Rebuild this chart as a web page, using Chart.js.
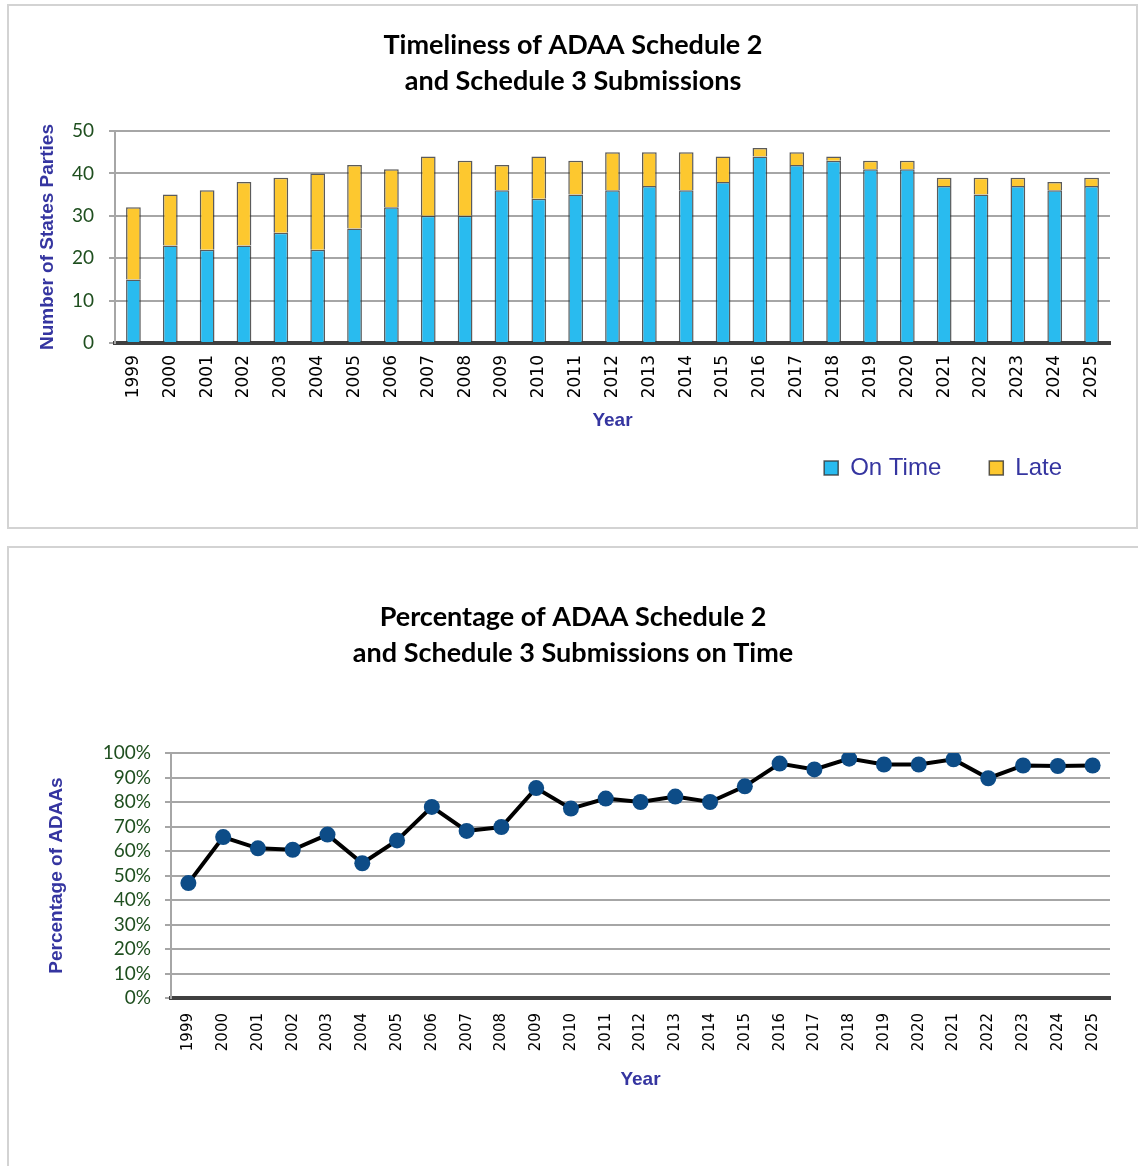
<!DOCTYPE html>
<html>
<head>
<meta charset="utf-8">
<title>ADAA Schedule 2 and 3 Submissions</title>
<script src="https://cdn.jsdelivr.net/npm/chart.js@4.4.1/dist/chart.umd.min.js"></script>
<style>
  html, body { margin: 0; padding: 0; background: #fff; }
  body { width: 1138px; height: 1166px; position: relative; overflow: hidden; }
  .panel { position: absolute; border: 2px solid #d3d3d3; box-sizing: border-box; }
  #panel1 { left: 7px; top: 4px; width: 1131px; height: 525px; }
  #panel2 { left: 7px; top: 546px; width: 1140px; height: 640px; }
  .wrap { position: absolute; left: 0; width: 1138px; }
  #wrap1 { top: 0; height: 535px; }
  #wrap2 { top: 535px; height: 631px; }
</style>
</head>
<body>
<div class="panel" id="panel1"></div>
<div class="panel" id="panel2"></div>
<div class="wrap" id="wrap1"><canvas id="barChart"></canvas></div>
<div class="wrap" id="wrap2"><canvas id="lineChart"></canvas></div>

<script>
// Data
const years = ['1999', '2000', '2001', '2002', '2003', '2004', '2005', '2006', '2007',
  '2008', '2009', '2010', '2011', '2012', '2013', '2014', '2015', '2016', '2017',
  '2018', '2019', '2020', '2021', '2022', '2023', '2024', '2025'];
const onTime = [15, 23, 22, 23, 26, 22, 27, 32, 30, 30, 36, 34, 35, 36, 37, 36, 38, 44, 42, 43, 41, 41, 37, 35, 37, 36, 37];
const late = [17, 12, 14, 15, 13, 18, 15, 9, 14, 13, 6, 10, 8, 9, 8, 9, 6, 2, 3, 1, 2, 2, 2, 4, 2, 2, 2];
const pctOnTime = [46.9, 65.7, 61.1, 60.5, 66.7, 55.0, 64.3, 78.0, 68.2, 69.8, 85.7, 77.3, 81.4, 80.0,
  82.2, 80.0, 86.4, 95.7, 93.3, 97.7, 95.3, 95.3, 97.4, 89.7, 94.9, 94.7, 94.9];
const countTicks = [0, 10, 20, 30, 40, 50];

// Shared styles
const titleFont = { family: 'Lato, "Open Sans", sans-serif', size: 27, weight: 'bold', lineHeight: 36 / 27 };
const axisTitleFont = { family: '"Liberation Sans", Arial, sans-serif', size: 19, weight: 'bold' };
const axisTitleColor = '#3535a0';
const yTickFont = { family: 'Lato, sans-serif', size: 19 };
const yTickColor = '#1f4f1f';
const gridColor = '#a6a6a6';

Chart.defaults.animation = false;
Chart.defaults.responsive = true;
Chart.defaults.maintainAspectRatio = false;

// Chart 1: stacked bars
new Chart(document.getElementById('barChart'), {
  type: 'bar',
  data: {
    labels: years,
    datasets: [
      {
        label: 'On Time',
        data: onTime,
        backgroundColor: '#29bbef',
        borderColor: 'rgba(50,50,50,0.8)',
        borderWidth: 1.5,
        barPercentage: 0.4,
        categoryPercentage: 1
      },
      {
        label: 'Late',
        data: late,
        backgroundColor: '#fdc82f',
        borderColor: 'rgba(50,50,50,0.8)',
        borderWidth: 1.5,
        barPercentage: 0.4,
        categoryPercentage: 1
      }
    ]
  },
  options: {
    layout: { padding: { left: 36, right: 28, top: 0, bottom: 45 } },
    plugins: {
      title: {
        display: true,
        text: ['Timeliness of ADAA Schedule 2', 'and Schedule 3 Submissions'],
        color: '#000',
        font: titleFont,
        padding: { top: 27, bottom: 32 }
      },
      legend: {
        position: 'bottom',
        align: 'end',
        labels: {
          boxWidth: 14,
          boxHeight: 14,
          padding: 48,
          color: axisTitleColor,
          font: { family: '"Liberation Sans", Arial, sans-serif', size: 24 }
        }
      },
      tooltip: { enabled: false }
    },
    scales: {
      x: {
        stacked: true,
        grid: { display: false, drawTicks: false },
        border: { display: true, color: '#404040', width: 4 },
        ticks: {
          color: '#000',
          font: { family: '"DejaVu Sans", sans-serif', size: 17 },
          minRotation: 90,
          maxRotation: 90,
          padding: 12,
          autoSkip: false
        },
        title: {
          display: true,
          text: 'Year',
          color: axisTitleColor,
          font: axisTitleFont,
          padding: { top: 0, bottom: -24 }
        },
        afterFit: (scale) => { scale.height = 65; }
      },
      y: {
        stacked: true,
        min: 0,
        max: 50,
        afterBuildTicks: (scale) => { scale.ticks = countTicks.map(v => ({ value: v })); },
        grid: { color: gridColor, lineWidth: 2, tickLength: 6 },
        border: { color: gridColor, width: 2 },
        ticks: { color: yTickColor, font: yTickFont, padding: 15, autoSkip: false },
        title: {
          display: true,
          text: 'Number of States Parties',
          color: axisTitleColor,
          font: axisTitleFont,
          padding: { top: 0, bottom: 0 }
        },
        afterFit: (scale) => { scale.width = 79; }
      }
    }
  }
});

// Chart 2: percentage on time
new Chart(document.getElementById('lineChart'), {
  type: 'line',
  data: {
    labels: years,
    datasets: [{
      label: 'Percentage on Time',
      data: pctOnTime,
      borderColor: '#000',
      borderWidth: 4,
      tension: 0,
      pointRadius: 8,
      pointBorderWidth: 0,
      pointBackgroundColor: '#0d4c87',
      pointBorderColor: '#0d4c87'
    }]
  },
  options: {
    layout: { padding: { left: 36, right: 28, top: 0, bottom: 68 } },
    plugins: {
      title: {
        display: true,
        text: ['Percentage of ADAA Schedule 2', 'and Schedule 3 Submissions on Time'],
        color: '#000',
        font: titleFont,
        padding: { top: 64, bottom: 82 }
      },
      legend: { display: false },
      tooltip: { enabled: false }
    },
    scales: {
      x: {
        offset: true,
        grid: { display: false, drawTicks: false },
        border: { display: true, color: '#404040', width: 4 },
        ticks: {
          color: '#000',
          font: { family: '"DejaVu Sans", sans-serif', size: 15 },
          minRotation: 90,
          maxRotation: 90,
          padding: 15,
          autoSkip: false
        },
        title: {
          display: true,
          text: 'Year',
          color: axisTitleColor,
          font: axisTitleFont,
          padding: { top: 0, bottom: 7 }
        },
        afterFit: (scale) => { scale.height = 100; }
      },
      y: {
        min: 0,
        max: 100,
        grid: { color: gridColor, lineWidth: 2, tickLength: 6 },
        border: { color: gridColor, width: 2 },
        ticks: {
          stepSize: 10,
          autoSkip: false,
          color: yTickColor,
          font: yTickFont,
          padding: 14,
          callback: (v) => v + '%'
        },
        title: {
          display: true,
          text: 'Percentage of ADAAs',
          color: axisTitleColor,
          font: axisTitleFont,
          padding: { top: 9, bottom: 0 }
        },
        afterFit: (scale) => { scale.width = 135; }
      }
    }
  }
});
</script>
</body>
</html>
